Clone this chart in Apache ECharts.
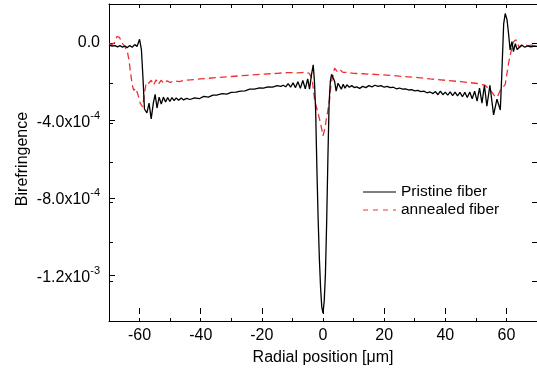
<!DOCTYPE html>
<html>
<head>
<meta charset="utf-8">
<script src="https://cdn.jsdelivr.net/npm/echarts@6/dist/echarts.min.js"></script>
<style>
  html, body { margin: 0; padding: 0; background: #fff; }
  #chart { width: 537px; height: 371px; }
</style>
</head>
<body>
<div id="chart"></div>
<script>
// Birefringence profiles across the fiber (values in units of 1e-4)
const pristineX = [-70, -69, -68, -67.2, -66.4, -65.6, -64.8, -64, -63.2, -62.4, -61.6, -60.8, -60.0, -59.4, -58.9, -58.4,
  -57.6, -56.9, -56.2, -55.5, -54.9, -54.3, -53.6, -52.9, -52.2, -51.5, -50.8, -50.1, -49.4, -48.7, -48.0, -47.2, -46.4,
  -45.6, -44.6, -43.5, -42, -40.5, -39, -37.5, -36, -34.8, -33, -31.5, -30, -28.5, -27, -25.5, -24, -22.5, -21, -19.5,
  -18, -16.5, -15, -13.8, -13, -12.2, -11.4, -10.6, -9.8, -9.0, -8.2, -7.4, -6.6, -5.8, -5.0, -4.4, -3.8, -3.2, -2.8,
  -2.4, -2.0, -1.6, -1.2, -0.8, -0.4, 0, 0.4, 0.8, 1.2, 1.6, 2.0, 2.4, 2.8, 3.25, 3.8, 4.3, 4.9, 5.4, 6.0, 6.6, 7.2, 7.8,
  8.6, 9.4, 10.2, 11, 12, 13, 14, 15, 16, 17, 18, 19, 20, 21, 22, 23, 24, 25, 26, 27, 28, 29, 30, 31, 32, 33, 34, 35,
  36, 36.8, 37.6, 38.4, 39.2, 40, 40.8, 41.6, 42.4, 43.2, 44, 44.8, 45.6, 46.4, 47.2, 48, 48.8, 49.6, 50.4, 51.2, 52,
  52.8, 53.6, 54.6, 55.8, 56.9, 58.0, 58.5, 59.1, 59.6, 60.2, 60.7, 61.2, 61.8, 62.3, 62.9, 63.5, 64.0, 65, 66, 67, 68,
  69, 70];
const pristineY = [-0.08, -0.12, -0.10, -0.16, -0.10, -0.18, -0.12, -0.20, -0.10, -0.18, -0.05, -0.14, 0.22, -0.3, -1.7,
  -3.3, -3.5, -3.0, -3.8, -3.0, -2.56, -3.25, -2.7, -3.05, -2.7, -2.95, -2.72, -2.92, -2.72, -2.88, -2.74, -2.86, -2.74,
  -2.84, -2.76, -2.82, -2.74, -2.78, -2.66, -2.70, -2.60, -2.60, -2.52, -2.55, -2.46, -2.45, -2.40, -2.38, -2.30, -2.30,
  -2.24, -2.25, -2.18, -2.20, -2.12, -2.16, -2.10, -2.18, -2.02, -2.2, -1.98, -2.22, -1.92, -2.26, -1.86, -2.28, -1.78,
  -2.3, -1.6, -1.07, -1.9, -3.4, -6.3, -8.8, -10.8, -12.3, -13.3, -13.6, -13.0, -11.6, -9.0, -5.8, -3.0, -1.9, -1.55,
  -1.5, -1.9, -2.4, -2.0, -2.0, -2.3, -2.05, -2.25, -2.08, -2.2, -2.12, -2.22, -2.18, -2.26, -2.16, -2.22, -2.12, -2.18,
  -2.1, -2.16, -2.12, -2.2, -2.16, -2.22, -2.2, -2.28, -2.24, -2.3, -2.28, -2.34, -2.32, -2.38, -2.36, -2.42, -2.4,
  -2.48, -2.44, -2.52, -2.42, -2.58, -2.40, -2.58, -2.45, -2.60, -2.44, -2.62, -2.45, -2.64, -2.46, -2.68, -2.46, -2.72,
  -2.44, -2.78, -2.40, -2.9, -2.25, -3.0, -2.1, -3.16, -2.1, -3.6, -2.8, -3.35, -1.5, 1.0, 1.52, 1.2, 0.5, -0.32, 0.1,
  -0.4, 0.0, -0.3, -0.2, -0.07, -0.18, -0.12, -0.16, -0.12, -0.14];

const annealedX = [-70, -69, -68.2, -67.4, -66.6, -65.8, -64.8, -64, -63.5, -63, -62.4, -61.9, -61.2, -60.5, -59.8, -59.0,
  -58.4, -57.8, -57.0, -56.2, -55.4, -54.6, -53.8, -53, -52, -51, -50, -48.5, -47, -45.5, -40, -35, -30, -25, -20, -15,
  -11.4, -8, -6, -4.5, -3.6, -2.7, -1.6, -0.5, 0, 0.6, 1.0, 2.1, 2.6, 3.8, 4.6, 5.5, 6.5, 8, 10, 13, 18, 22, 26, 30, 35,
  40.7, 45, 50, 53, 55, 56.2, 57, 58, 59.6, 60.2, 60.7, 61.5, 62.3, 63.1, 64.2, 65.6, 67, 68.5, 70];
const annealedY = [0.0, -0.05, 0.05, 0.36, 0.32, 0.05, -0.15, -0.4, -0.8, -1.4, -2.1, -2.35, -2.25, -2.6, -3.0, -3.2,
  -2.5, -1.95, -2.0, -1.85, -2.1, -1.82, -2.05, -1.85, -2.0, -1.88, -1.96, -1.88, -1.92, -1.86, -1.78, -1.72, -1.66,
  -1.6, -1.55, -1.5, -1.46, -1.48, -1.44, -1.5, -1.74, -2.9, -3.5, -4.25, -4.65, -4.3, -3.9, -2.9, -2.07, -1.24, -1.4,
  -1.3, -1.45, -1.45, -1.5, -1.52, -1.56, -1.6, -1.66, -1.7, -1.78, -1.86, -1.92, -2.0, -2.1, -2.4, -2.66, -2.7, -2.35,
  -2.07, -1.49, -0.99, -0.4, 0.1, 0.2, -0.2, -0.05, -0.1, -0.08, -0.1];

const seriesNames = ['Pristine fiber', 'annealed fiber'];
const xLabelValues = [-60, -40, -20, 0, 20, 40, 60];
const yLabelValues = [0, -4, -8, -12];

const toPairs = (xs, ys) => xs.map((x, i) => [x, ys[i]]);

// tick label text: value in units of 1e-4 -> "m.mx10^e"
function yLabel(v) {
  if (v === 0) return '0.0';
  const real = v * 1e-4;
  const e = Math.floor(Math.log10(Math.abs(real)) + 1e-9);
  const m = real / Math.pow(10, e);
  return '{b|' + m.toFixed(1) + 'x10}{s|' + e + '}';
}

// legend keys: a plain stroke and a dashed stroke (degenerate corner points fix the box size)
const BOX = 'M0,0L0.01,0Z M0,14L0.01,14Z ';
const solidKey = 'path://' + BOX + 'M0,6.4H33V7.6H0Z';
const dashedKey = 'path://' + BOX + 'M0,6.4H5V7.6H0Z M10,6.4H15V7.6H10Z M20,6.4H25V7.6H20Z M30,6.4H33V7.6H30Z';

const FONT = '"Liberation Sans", Arial, sans-serif';
const axisLineStyle = { color: '#000', width: 1 };
const frame = { left: 109, top: 4, right: -3, bottom: 50 };
const frameLine = { show: true, onZero: false, lineStyle: axisLineStyle };

const chart = echarts.init(document.getElementById('chart'), null, { renderer: 'canvas' });
chart.setOption({
  animation: false,
  textStyle: { fontFamily: FONT },
  grid: [
    Object.assign({}, frame),
    Object.assign({}, frame)
  ],
  legend: {
    orient: 'vertical',
    left: 358,
    top: 179,
    itemWidth: 33,
    itemHeight: 14,
    itemGap: 2,
    textStyle: { fontFamily: FONT, fontSize: 15.5, color: '#000' },
    data: [
      { name: seriesNames[0], icon: solidKey, itemStyle: { color: '#000' } },
      { name: seriesNames[1], icon: dashedKey, itemStyle: { color: '#f03030' } }
    ]
  },
  xAxis: [
    { // bottom frame, minor ticks every 10
      gridIndex: 0, type: 'value', position: 'bottom', min: -70, max: 70, interval: 10,
      axisLine: frameLine,
      axisTick: { show: true, inside: true, length: 3, lineStyle: axisLineStyle },
      axisLabel: { show: false }, splitLine: { show: false }
    },
    { // top frame
      gridIndex: 0, type: 'value', position: 'top', min: -70, max: 70, interval: 10,
      axisLine: frameLine,
      axisTick: { show: true, inside: true, length: 4, lineStyle: axisLineStyle },
      axisLabel: { show: false }, splitLine: { show: false }
    },
    { // labelled major ticks
      gridIndex: 1, type: 'value', position: 'bottom', min: -70, max: 70,
      axisLine: { show: false, onZero: false },
      axisTick: { show: true, inside: true, length: 6, customValues: xLabelValues, lineStyle: axisLineStyle },
      axisLabel: { show: true, customValues: xLabelValues, fontSize: 16, color: '#000', fontFamily: FONT, margin: 14 },
      splitLine: { show: false },
      name: 'Radial position [\u03bcm]', nameLocation: 'middle', nameGap: 36, nameMoveOverlap: false,
      nameTextStyle: { fontSize: 16, color: '#000', fontFamily: FONT }
    }
  ],
  yAxis: [
    { // left frame, minor ticks
      gridIndex: 0, type: 'value', position: 'left', min: -14, max: 2, interval: 2,
      axisLine: frameLine,
      axisTick: { show: true, inside: true, length: 4, lineStyle: axisLineStyle },
      axisLabel: { show: false }, splitLine: { show: false }
    },
    { // right frame
      gridIndex: 0, type: 'value', position: 'right', min: -14, max: 2, interval: 2,
      axisLine: frameLine,
      axisTick: { show: true, inside: true, length: 5, lineStyle: axisLineStyle },
      axisLabel: { show: false }, splitLine: { show: false }
    },
    { // labelled major ticks
      gridIndex: 1, type: 'value', position: 'left', min: -14, max: 2,
      axisLine: { show: false, onZero: false },
      axisTick: { show: true, inside: true, length: 6, customValues: yLabelValues, lineStyle: axisLineStyle },
      axisLabel: {
        show: true, customValues: yLabelValues, margin: 9, color: '#000', fontFamily: FONT, fontSize: 16,
        formatter: yLabel,
        rich: {
          b: { fontSize: 16, color: '#000', fontFamily: FONT, lineHeight: 20, verticalAlign: 'bottom' },
          s: { fontSize: 11, color: '#000', fontFamily: FONT, lineHeight: 20, verticalAlign: 'top' }
        }
      },
      splitLine: { show: false },
      name: 'Birefringence', nameLocation: 'middle', nameGap: 78, nameMoveOverlap: false,
      nameTextStyle: { fontSize: 16, color: '#000', fontFamily: FONT }
    }
  ],
  series: [
    {
      name: seriesNames[0], type: 'line', xAxisIndex: 0, yAxisIndex: 0,
      data: toPairs(pristineX, pristineY),
      symbol: 'none', smooth: false,
      lineStyle: { color: '#000', width: 1.3 },
      itemStyle: { color: '#000' },
      z: 3
    },
    {
      name: seriesNames[1], type: 'line', xAxisIndex: 0, yAxisIndex: 0,
      data: toPairs(annealedX, annealedY),
      symbol: 'none', smooth: false,
      lineStyle: { color: '#f03030', width: 1.3, type: [7, 4] },
      itemStyle: { color: '#f03030' },
      z: 2
    }
  ]
});
</script>
</body>
</html>
